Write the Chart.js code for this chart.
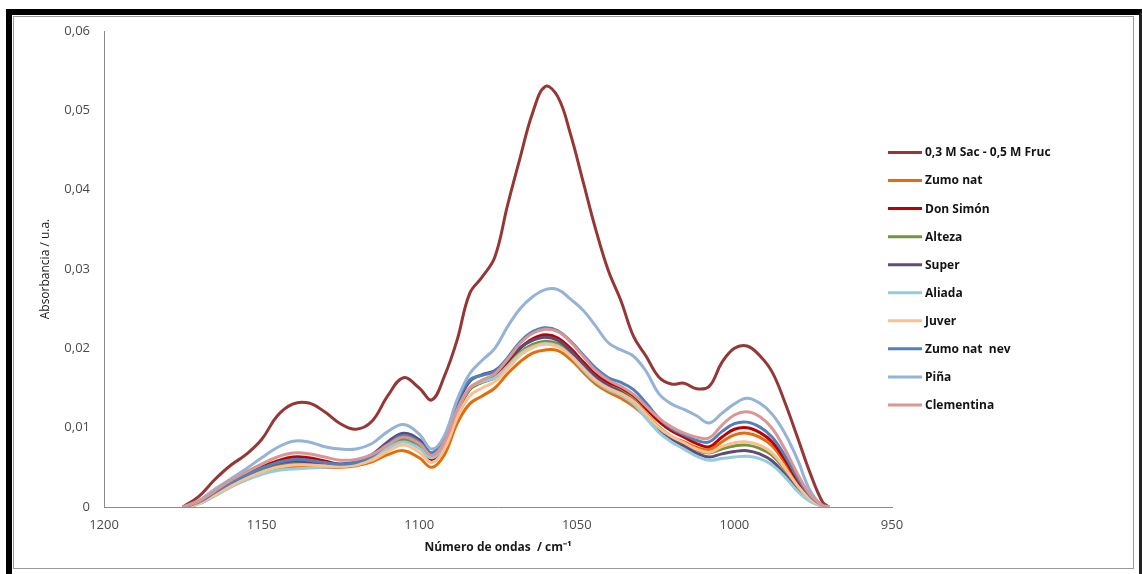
<!DOCTYPE html>
<html>
<head>
<meta charset="utf-8">
<script src="https://cdn.jsdelivr.net/npm/chart.js@4/dist/chart.umd.min.js"></script>
<style>
  html, body { margin: 0; padding: 0; background: #ffffff; }
  #wrap { position: relative; width: 1142px; height: 574px; overflow: hidden; background: #fff; }
  #frame { position: absolute; left: 6px; top: 9px; width: 1127px; height: 561px;
           border-left: 6px solid #000; border-top: 6px solid #000;
           border-right: 3px solid #222; border-bottom: 2px solid #666; }
  #inner { position: absolute; left: 13px; top: 16px; width: 1121px; height: 553px;
           border: 1px solid #9a9a9a; box-sizing: border-box; }
  canvas { position: absolute; left: 0; top: 0; }
</style>
</head>
<body>
<div id="wrap">
  <div id="frame"></div>
  <div id="inner"></div>
  <canvas id="c" width="1142" height="574"></canvas>
</div>
<script>
// wavenumbers (cm-1)
const wavenumbers = [1175,1170,1165,1160,1155,1150,1145,1140,1135,1130,1125,1120,1115,1110,1105,1100,1096,1092,1088,1084,1080,1076,1072,1068,1064,1060,1056,1052,1048,1044,1040,1036,1032,1028,1024,1020,1016,1012,1008,1004,1000,996,992,988,984,980,976,972,970];

const seriesNames = ["0,3 M Sac - 0,5 M Fruc","Zumo nat","Don Simón","Alteza","Super","Aliada","Juver","Zumo nat  nev","Piña","Clementina"];
const seriesColors = ["#953735","#E46C0A","#C00000","#77933C","#604A7B","#93CDDD","#FAC090","#4F81BD","#95B3D7","#D99694"];

const sacFruc = [0,0.0013,0.0034,0.0052,0.0066,0.0085,0.0115,0.0130,0.0131,0.0120,0.0105,0.0098,0.0108,0.0140,0.0163,0.0150,0.0135,0.0165,0.0210,0.0269,0.0290,0.0315,0.0380,0.0440,0.0497,0.0530,0.0517,0.0470,0.0410,0.0350,0.0298,0.0260,0.0215,0.0190,0.0164,0.0155,0.0156,0.0149,0.0152,0.0182,0.0200,0.0203,0.0191,0.0170,0.0132,0.0088,0.0043,0.0006,0];
const zumoNat = [0,0.0004,0.0014,0.0025,0.0034,0.0042,0.0048,0.0051,0.0051,0.0050,0.0050,0.0052,0.0057,0.0066,0.0071,0.0062,0.0050,0.0066,0.0105,0.0130,0.0140,0.0150,0.0168,0.0183,0.0194,0.0198,0.0197,0.0186,0.0170,0.0155,0.0145,0.0137,0.0127,0.0113,0.0098,0.0088,0.0082,0.0075,0.0072,0.0082,0.0091,0.0093,0.0088,0.0077,0.0056,0.0032,0.0012,0.0001,0];
const donSimon = [0,0.0006,0.0018,0.0030,0.0040,0.0050,0.0058,0.0063,0.0062,0.0058,0.0054,0.0055,0.0062,0.0075,0.0085,0.0076,0.0060,0.0078,0.0118,0.0148,0.0158,0.0165,0.0182,0.0200,0.0212,0.0217,0.0213,0.0200,0.0183,0.0167,0.0157,0.0150,0.0140,0.0124,0.0108,0.0096,0.0088,0.0080,0.0076,0.0088,0.0098,0.0100,0.0094,0.0082,0.0060,0.0034,0.0013,0.0001,0];
const alteza = [0,0.0005,0.0016,0.0028,0.0038,0.0047,0.0053,0.0056,0.0055,0.0053,0.0052,0.0054,0.0061,0.0074,0.0084,0.0078,0.0066,0.0082,0.0120,0.0148,0.0157,0.0163,0.0178,0.0195,0.0205,0.0209,0.0206,0.0194,0.0178,0.0163,0.0153,0.0146,0.0135,0.0118,0.0101,0.0089,0.0080,0.0072,0.0068,0.0073,0.0077,0.0078,0.0074,0.0065,0.0047,0.0026,0.0009,0.0001,0];
const superS = [0,0.0005,0.0017,0.0029,0.0040,0.0049,0.0055,0.0058,0.0057,0.0055,0.0054,0.0057,0.0066,0.0082,0.0093,0.0085,0.0068,0.0086,0.0128,0.0158,0.0167,0.0172,0.0186,0.0201,0.0210,0.0214,0.0210,0.0197,0.0180,0.0164,0.0153,0.0145,0.0133,0.0115,0.0098,0.0086,0.0077,0.0068,0.0063,0.0067,0.0070,0.0071,0.0067,0.0058,0.0041,0.0022,0.0008,0.0001,0];
const aliada = [0,0.0004,0.0014,0.0025,0.0034,0.0041,0.0046,0.0048,0.0049,0.0050,0.0051,0.0054,0.0061,0.0074,0.0082,0.0074,0.0062,0.0080,0.0120,0.0150,0.0158,0.0163,0.0177,0.0193,0.0202,0.0206,0.0203,0.0190,0.0173,0.0158,0.0148,0.0141,0.0130,0.0112,0.0094,0.0082,0.0073,0.0064,0.0059,0.0061,0.0063,0.0064,0.0061,0.0053,0.0038,0.0020,0.0007,0.0001,0];
const juver = [0,0.0004,0.0015,0.0026,0.0036,0.0044,0.0050,0.0053,0.0053,0.0052,0.0051,0.0053,0.0059,0.0070,0.0078,0.0069,0.0056,0.0073,0.0112,0.0140,0.0150,0.0158,0.0174,0.0191,0.0201,0.0205,0.0202,0.0191,0.0175,0.0160,0.0150,0.0143,0.0133,0.0117,0.0100,0.0089,0.0081,0.0073,0.0069,0.0076,0.0081,0.0082,0.0078,0.0068,0.0049,0.0027,0.0010,0.0001,0];
const zumoNatNev = [0,0.0006,0.0018,0.0030,0.0040,0.0049,0.0056,0.0060,0.0059,0.0056,0.0054,0.0056,0.0064,0.0079,0.0090,0.0082,0.0068,0.0088,0.0132,0.0160,0.0166,0.0171,0.0188,0.0208,0.0221,0.0226,0.0222,0.0209,0.0192,0.0175,0.0163,0.0157,0.0148,0.0131,0.0112,0.0099,0.0091,0.0084,0.0082,0.0095,0.0105,0.0107,0.0101,0.0088,0.0065,0.0037,0.0014,0.0002,0];
const pina = [0,0.0008,0.0022,0.0035,0.0048,0.0062,0.0075,0.0083,0.0082,0.0076,0.0073,0.0073,0.0080,0.0095,0.0104,0.0092,0.0073,0.0090,0.0135,0.0168,0.0185,0.0200,0.0227,0.0250,0.0265,0.0274,0.0274,0.0262,0.0248,0.0228,0.0207,0.0198,0.0190,0.0171,0.0143,0.0130,0.0123,0.0115,0.0106,0.0118,0.0130,0.0137,0.0131,0.0117,0.0093,0.0060,0.0021,0.0001,0];
const clementina = [0,0.0007,0.0020,0.0033,0.0044,0.0054,0.0063,0.0068,0.0067,0.0063,0.0059,0.0060,0.0066,0.0078,0.0088,0.0080,0.0065,0.0082,0.0122,0.0150,0.0160,0.0168,0.0186,0.0206,0.0219,0.0224,0.0221,0.0208,0.0190,0.0172,0.0160,0.0152,0.0142,0.0127,0.0112,0.0101,0.0093,0.0088,0.0087,0.0103,0.0116,0.0120,0.0114,0.0099,0.0073,0.0042,0.0016,0.0002,0];

const seriesValues = [sacFruc, zumoNat, donSimon, alteza, superS, aliada, juver, zumoNatNev, pina, clementina];

const xTickValues = [1200,1150,1100,1050,1000,950];
const yTickValues = [0,0.01,0.02,0.03,0.04,0.05,0.06];

const datasets = seriesValues.map((vals, i) => ({
  label: seriesNames[i],
  data: wavenumbers.map((w, j) => ({x: w, y: vals[j]})),
  borderColor: seriesColors[i],
  backgroundColor: seriesColors[i],
  borderWidth: 3,
  pointRadius: 0,
  tension: 0.4,
  fill: false,
  order: seriesValues.length - i
}));

const legendPlugin = {
  id: 'customLegend',
  afterDraw(chart) {
    const ctx = chart.ctx;
    ctx.save();
    chart.data.datasets.forEach((ds, i) => {
      const y = 152.5 + i * 28.05;
      ctx.strokeStyle = ds.borderColor;
      ctx.lineWidth = 3;
      ctx.beginPath();
      ctx.moveTo(888, y);
      ctx.lineTo(922, y);
      ctx.stroke();
      ctx.fillStyle = '#141414';
      ctx.font = 'bold 12px "Open Sans"';
      ctx.textBaseline = 'middle';
      ctx.textAlign = 'left';
      ctx.fillText(ds.label, 925, y + 0.5);
    });
    ctx.restore();
  }
};

new Chart(document.getElementById('c'), {
  type: 'line',
  data: { datasets },
  plugins: [legendPlugin],
  options: {
    responsive: false,
    animation: false,
    events: [],
    layout: { padding: { left: 28, top: 31, right: 250, bottom: 10 } },
    plugins: { legend: { display: false }, tooltip: { enabled: false } },
    scales: {
      x: {
        type: 'linear',
        reverse: true,
        min: 950,
        max: 1200,
        afterBuildTicks(scale) { scale.ticks = xTickValues.map(v => ({value: v})); },
        afterFit(scale) { scale.height = 57; scale.paddingLeft = 0; scale.paddingRight = 0; },
        grid: { display: false, drawTicks: false },
        border: { display: true, color: '#8a8a8a', width: 1 },
        ticks: {
          padding: 10,
          autoSkip: false,
          maxRotation: 0,
          color: '#4a4a4a',
          font: { family: '"Open Sans"', size: 13 },
          callback: v => String(v)
        },
        title: {
          display: true,
          text: 'Número de ondas  / cm⁻¹',
          color: '#1a1a1a',
          font: { family: '"Open Sans"', size: 12, weight: 'bold' },
          padding: { top: 0, bottom: 9 }
        }
      },
      y: {
        type: 'linear',
        min: 0,
        max: 0.06,
        afterBuildTicks(scale) { scale.ticks = yTickValues.map(v => ({value: v})); },
        afterFit(scale) { scale.width = 76; scale.paddingTop = 0; scale.paddingBottom = 0; },
        grid: { display: false, drawTicks: false },
        border: { display: true, color: '#8a8a8a', width: 1 },
        ticks: {
          padding: 14,
          color: '#4a4a4a',
          font: { family: '"Open Sans"', size: 13 },
          callback: v => (v === 0 ? '0' : v.toFixed(2).replace('.', ','))
        },
        title: {
          display: true,
          text: 'Absorbancia / u.a.',
          color: '#1a1a1a',
          font: { family: '"Open Sans"', size: 12 },
          padding: { top: 10, bottom: 0 }
        }
      }
    }
  }
});
</script>
</body>
</html>
